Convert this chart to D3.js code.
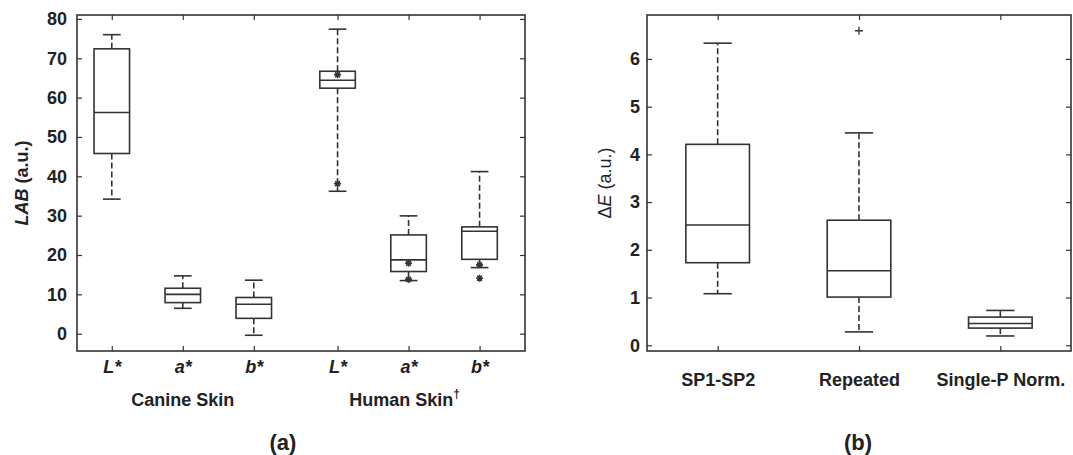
<!DOCTYPE html>
<html>
<head>
<meta charset="utf-8">
<script src="https://cdn.jsdelivr.net/npm/d3@7"></script>
<style>
  body { margin: 0; background: #fff; }
  svg { display: block; font-family: "Liberation Sans", Arial, sans-serif; }
  text { fill: #222; }
</style>
</head>
<body>
<svg id="chart" width="1073" height="455"></svg>
<script>
// (a) LAB values, canine L*, a*, b* then human L*, a*, b*
const labGroups = ["Canine Skin", "Human Skin"];
const labChannels = ["L", "a", "b"];
const labLow = [34.2, 6.45, -0.4, 36.2, 13.5, 16.8];
const labQ1 = [45.8, 7.9, 3.9, 62.4, 15.8, 18.9];
const labMedian = [56.2, 10.0, 7.5, 64.4, 18.75, 26.05];
const labQ3 = [72.4, 11.55, 9.2, 66.7, 25.1, 27.15];
const labHigh = [76.0, 14.7, 13.6, 77.4, 29.95, 41.2];
// extra markers on human boxes: [box index, value]
const labMarkers = [[3, 65.8], [3, 38.1], [4, 17.9], [4, 13.8], [5, 17.5], [5, 14.1]];
const labTicks = [0, 10, 20, 30, 40, 50, 60, 70, 80];

// (b) Delta E
const deCategories = ["SP1-SP2", "Repeated", "Single-P Norm."];
const deLow = [1.08, 0.28, 0.195];
const deQ1 = [1.73, 1.01, 0.36];
const deMedian = [2.52, 1.56, 0.455];
const deQ3 = [4.21, 2.62, 0.59];
const deHigh = [6.33, 4.45, 0.73];
const deOutliers = [[1, 6.59]];
const deTicks = [0, 1, 2, 3, 4, 5, 6];

const ink = "#333";
const svg = d3.select("#chart");

function asterisk(r) {
  const a = r * 0.7;
  return `M${-r},0H${r}M0,${-r}V${r}M${-a},${-a}L${a},${a}M${-a},${a}L${a},${-a}`;
}

function drawBoxes(g, x, y, pos, lo, q1, med, q3, hi, boxW, capW) {
  const bw = x(1 + boxW / 2) - x(1);
  const cw = x(1 + capW / 2) - x(1);
  pos.forEach((p, i) => {
    const cx = x(p);
    const b = g.append("g").attr("stroke", ink).attr("fill", "none").attr("stroke-width", 1.6);
    b.append("line").attr("x1", cx).attr("x2", cx).attr("y1", y(q3[i])).attr("y2", y(hi[i]))
      .attr("stroke-dasharray", "6,3");
    b.append("line").attr("x1", cx).attr("x2", cx).attr("y1", y(q1[i])).attr("y2", y(lo[i]))
      .attr("stroke-dasharray", "6,3");
    [lo[i], hi[i]].forEach(v => {
      b.append("line").attr("x1", cx - cw).attr("x2", cx + cw).attr("y1", y(v)).attr("y2", y(v));
    });
    b.append("rect").attr("x", cx - bw).attr("width", bw * 2)
      .attr("y", y(q3[i])).attr("height", y(q1[i]) - y(q3[i])).attr("fill", "#fff");
    b.append("line").attr("x1", cx - bw).attr("x2", cx + bw).attr("y1", y(med[i])).attr("y2", y(med[i]));
  });
}

function frame(g, x, y, pos, ticks, pad) {
  const [x0, x1] = x.range();
  const [y1, y0] = y.range();
  g.append("g").attr("transform", `translate(${x0},0)`)
    .call(d3.axisLeft(y).tickValues(ticks).tickSize(-5).tickPadding(pad).tickFormat(d3.format("d")))
    .call(a => a.select(".domain").remove());
  g.append("g").attr("transform", `translate(${x1},0)`)
    .call(d3.axisRight(y).tickValues(ticks).tickSize(-5).tickFormat(""))
    .call(a => a.select(".domain").remove());
  g.append("g").attr("transform", `translate(0,${y0})`)
    .call(d3.axisTop(x).tickValues(pos).tickSize(-5).tickFormat(""))
    .call(a => a.select(".domain").remove());
  g.selectAll(".tick line").attr("stroke", ink).attr("stroke-width", 1.2);
  g.selectAll(".tick text").attr("font-size", 18).attr("font-weight", "bold")
    .attr("font-family", "'Liberation Sans', Arial, sans-serif").attr("fill", "#222");
  g.append("rect").attr("x", x0).attr("y", y0).attr("width", x1 - x0).attr("height", y1 - y0)
    .attr("fill", "none").attr("stroke", ink).attr("stroke-width", 1.6);
}

// ---- panel (a)
const groupGap = 0.18;
const labPos = labLow.map((_, i) => (i % 3) + 1 + Math.floor(i / 3) * (3 + groupGap));
const xa = d3.scaleLinear().domain([0.51, 6.82]).range([77, 525]);
const ya = d3.scaleLinear().domain([-4.4, 81]).range([351, 15]);
const ga = svg.append("g");

drawBoxes(ga, xa, ya, labPos, labLow, labQ1, labMedian, labQ3, labHigh, 0.5, 0.25);

ga.selectAll("path.mark").data(labMarkers).join("path")
  .attr("class", "mark")
  .attr("transform", d => `translate(${xa(labPos[d[0]])},${ya(d[1])})`)
  .attr("d", asterisk(3.5))
  .attr("stroke", ink).attr("stroke-width", 1.6).attr("fill", "none");

frame(ga, xa, ya, labPos, labTicks, 10);

ga.append("g").attr("transform", `translate(0,${ya.range()[0]})`)
  .call(d3.axisBottom(xa).tickValues(labPos).tickSize(-5).tickPadding(9)
    .tickFormat((d, i) => labChannels[i % 3] + "*"))
  .call(a => a.select(".domain").remove())
  .call(a => a.selectAll(".tick line").attr("stroke", ink).attr("stroke-width", 1.2))
  .call(a => a.selectAll(".tick text").attr("font-size", 18).attr("font-weight", "bold")
    .attr("font-style", "italic").attr("fill", "#222")
    .attr("font-family", "'Liberation Sans', Arial, sans-serif"));

labGroups.forEach((name, gi) => {
  const t = ga.append("text").attr("x", xa(labPos[gi * 3 + 1]) - (gi ? 4 : 0)).attr("y", 406)
    .attr("text-anchor", "middle").attr("font-size", 18).attr("font-weight", "bold").text(name);
  if (gi === 1) t.append("tspan").attr("font-size", 12).attr("dy", -8).text("\u2020");
});

const yla = ga.append("text").attr("transform", `translate(28,183) rotate(-90)`)
  .attr("text-anchor", "middle").attr("font-size", 18).attr("font-weight", "bold");
yla.append("tspan").attr("font-style", "italic").text("LAB");
yla.append("tspan").text(" (a.u.)");

ga.append("text").attr("x", 283).attr("y", 450).attr("text-anchor", "middle")
  .attr("font-size", 22).attr("font-weight", "bold").text("(a)");

// ---- panel (b)
const dePos = deCategories.map((_, i) => i + 1);
const xb = d3.scaleLinear().domain([0.5, 3.5]).range([647, 1071]);
const yb = d3.scaleLinear().domain([-0.12, 6.92]).range([351, 15]);
const gb = svg.append("g");

drawBoxes(gb, xb, yb, dePos, deLow, deQ1, deMedian, deQ3, deHigh, 0.45, 0.2);

gb.selectAll("path.out").data(deOutliers).join("path")
  .attr("class", "out")
  .attr("transform", d => `translate(${xb(dePos[d[0]])},${yb(d[1])})`)
  .attr("d", "M-4,0H4M0,-4V4")
  .attr("stroke", ink).attr("stroke-width", 1.3);

frame(gb, xb, yb, dePos, deTicks, 7);

gb.append("g").attr("transform", `translate(0,${yb.range()[0]})`)
  .call(d3.axisBottom(xb).tickValues(dePos).tickSize(-5).tickPadding(22)
    .tickFormat((d, i) => deCategories[i]))
  .call(a => a.select(".domain").remove())
  .call(a => a.selectAll(".tick line").attr("stroke", ink).attr("stroke-width", 1.2))
  .call(a => a.selectAll(".tick text").attr("font-size", 18).attr("font-weight", "bold")
    .attr("fill", "#222").attr("font-family", "'Liberation Sans', Arial, sans-serif"));

const ylb = gb.append("text").attr("transform", `translate(611,183) rotate(-90)`)
  .attr("text-anchor", "middle").attr("font-size", 18);
ylb.append("tspan").text("\u0394");
ylb.append("tspan").attr("font-style", "italic").text("E");
ylb.append("tspan").text(" (a.u.)");

gb.append("text").attr("x", 858).attr("y", 450).attr("text-anchor", "middle")
  .attr("font-size", 22).attr("font-weight", "bold").text("(b)");
</script>
</body>
</html>
